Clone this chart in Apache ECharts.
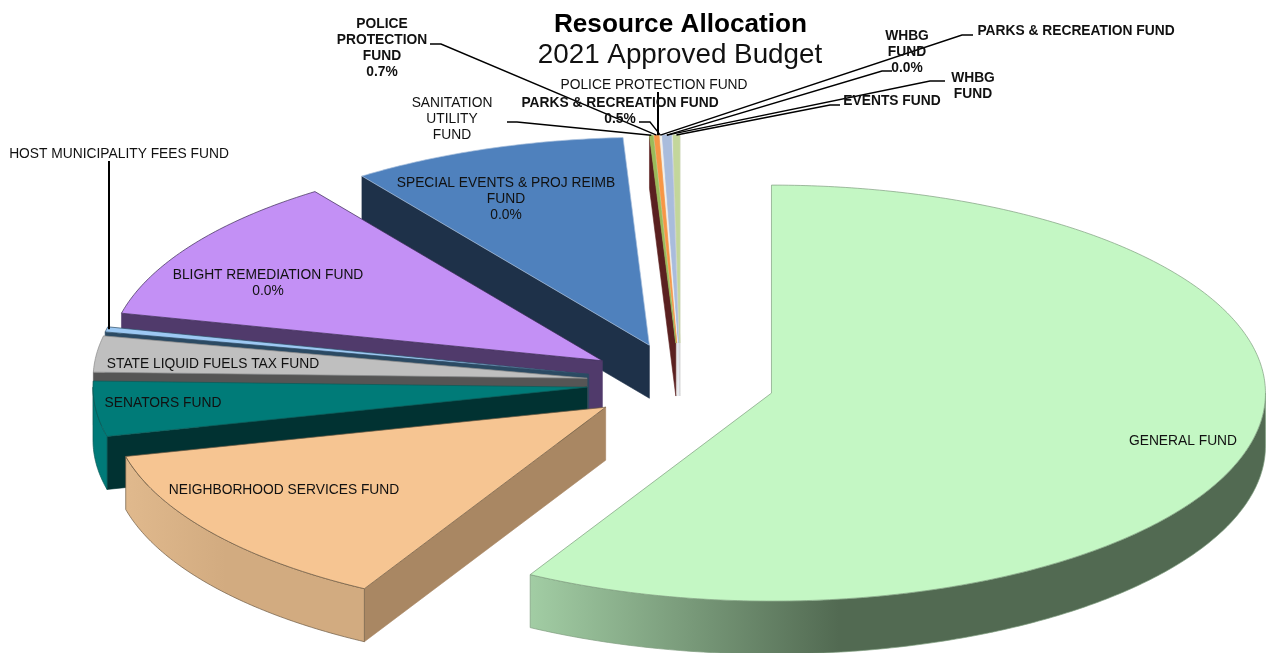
<!DOCTYPE html>
<html><head><meta charset="utf-8">
<style>html,body{margin:0;padding:0;background:#fff}#c{width:1267px;height:653px}</style>
<script src="https://cdn.jsdelivr.net/npm/echarts@6/dist/echarts.min.js"></script>
</head><body><div id="c"></div>
<script>
// ---- data: share of the budget, percent, clockwise from 12 o'clock
const categories = ['GENERAL FUND','NEIGHBORHOOD SERVICES FUND','SENATORS FUND','STATE LIQUID FUELS TAX FUND','HOST MUNICIPALITY FEES FUND','BLIGHT REMEDIATION FUND','SPECIAL EVENTS & PROJ REIMB FUND','SANITATION UTILITY FUND','POLICE PROTECTION FUND','PARKS & RECREATION FUND','WHBG FUND','EVENTS FUND'];
const shares = [58.15,13.08,4.28,2.8,0.4,11.45,9.04,0.12,0.16,0.05,0.3,0.22];

// ---- styles
const topColors  = ['#c4f7c4','#f6c592','#007b78','#bfbfbf','#9dc9f3','#c390f5','#4f81bd','#9bbb59','#f79646','#f2efe6','#a9bcdc','#c3d69b'];
const cutColors  = ['#526a52','#a98763','#013232','#555555','#2b4a63','#503a6b','#1e3149','#5a2020','#e8e8e8','#e8e8e8','#dfe3ee','#d5d5d8'];
const rimStops   = [['#a2cda4','#526a52','#526a52'],['#e0b98d','#d2ab80','#d2ab80'],['#007a78','#007a78','#007a78'],['#8a8a8a','#8a8a8a','#8a8a8a'],['#7aa0c0','#7aa0c0','#7aa0c0'],['#503a6b','#503a6b','#503a6b'],['#1e3149','#1e3149','#1e3149'],['#555','#555','#555'],['#ccc','#ccc','#ccc'],['#ccc','#ccc','#ccc'],['#ccc','#ccc','#ccc'],['#ccc','#ccc','#ccc']];
const edgeColors = ['#7f9d7f','#6d5a44','#0a5a58','#8a8a8a','#2b4a63','#3a2a52','#a9c0dc','#9bbb59','#f79646','#f2efe6','#a9bcdc','#c3d69b'];

// ---- projection of the pie
const pie = {cx:680.5, cy:383, rx:494, ry:208, explodeX:94, explodeY:40, depth:53, start:0};
const total = shares.reduce((a,b)=>a+b,0);
const bounds = []; { let a = pie.start; shares.forEach(v=>{ const b=a+v/total*360; bounds.push([a,b]); a=b; }); }
const rad = d=>d*Math.PI/180;
const apexOf = i=>{ const m=rad((bounds[i][0]+bounds[i][1])/2);
  return [pie.cx+pie.explodeX*Math.sin(m), pie.cy-pie.explodeY*Math.cos(m)]; };
const rimPt = (i,t)=>{ const a=apexOf(i); return [a[0]+pie.rx*Math.sin(rad(t)), a[1]-pie.ry*Math.cos(rad(t))]; };
const down = p=>[p[0],p[1]+pie.depth];
const arc = (i,a,b)=>{ const n=Math.max(2,Math.ceil((b-a)*1.5)), o=[]; for(let k=0;k<=n;k++) o.push(rimPt(i,a+(b-a)*k/n)); return o; };

// back-to-front paint order follows the slice's mid angle
const paintOrder = categories.map((_,i)=>i).sort((p,q)=>
  Math.cos(rad((bounds[q][0]+bounds[q][1])/2))-Math.cos(rad((bounds[p][0]+bounds[p][1])/2)));

function renderSlice(params){
  const i = paintOrder[params.dataIndex], A=apexOf(i), [b0,b1]=bounds[i], pts=arc(i,b0,b1), s=pts[0], e=pts[pts.length-1];
  const M=rimPt(i,(b0+b1)/2), kids=[];
  const face=(p,c,st,lw)=>({type:'polygon',shape:{points:p},style:{fill:c,stroke:st,lineWidth:lw}});
  // a cut face shows only when extruding its edge downwards leaves the wedge
  const shows=P=>{ const ux=P[0]-A[0],uy=P[1]-A[1];
    return (ux*(M[1]-A[1])-uy*(M[0]-A[0]))*(ux*1)<0; };
  if(shows(s)) kids.push(face([A,s,down(s),down(A)],cutColors[i],cutColors[i],0.6));
  if(shows(e)) kids.push(face([A,e,down(e),down(A)],cutColors[i],cutColors[i],0.6));
  const ra=Math.max(b0,90), rb=Math.min(b1,270);
  if(ra<rb){
    const r=arc(i,ra,rb);
    kids.push(face(r.concat(r.map(down).reverse()),{type:'linear',x:0,y:0,x2:1,y2:0,colorStops:[{offset:0,color:rimStops[i][0]},{offset:0.42,color:rimStops[i][1]},{offset:1,color:rimStops[i][2]}]},edgeColors[i],0.7));
  }
  kids.push(face([A].concat(pts),topColors[i],edgeColors[i],0.7));
  return {type:'group',children:kids};
}

// ---- annotations
const ink='#111';
const texts = [
 {lines:['POLICE','PROTECTION','FUND','0.7%'],x:382,y:24,bold:1,leader:[[430,44],[441,44]],to:8},
 {lines:['SANITATION','UTILITY','FUND'],x:452,y:103,leader:[[507,122],[517,122]],to:7},
 {lines:['POLICE PROTECTION FUND'],x:654,y:85,leader:[[658,92]],to:8,w:2,vertical:1},
 {lines:['PARKS & RECREATION FUND','0.5%'],x:620,y:103,bold:1,leader:[[639,122],[650,122]],to:9},
 {lines:['WHBG','FUND','0.0%'],x:907,y:36,bold:1,leader:[[892,71],[882,71]],to:10},
 {lines:['PARKS & RECREATION FUND'],x:1076,y:31,bold:1,leader:[[973,35],[962,35]],to:9},
 {lines:['WHBG','FUND'],x:973,y:78,bold:1,leader:[[945,81],[930,81]],to:10},
 {lines:['EVENTS FUND'],x:892,y:101,bold:1,leader:[[840,105],[830,105]],to:11},
 {lines:['SPECIAL EVENTS & PROJ REIMB','FUND','0.0%'],x:506,y:183},
 {lines:['BLIGHT REMEDIATION FUND','0.0%'],x:268,y:275},
 {lines:['HOST MUNICIPALITY FEES FUND'],x:119,y:154,leader:[[109,161]],to:4,w:2,vertical:1},
 {lines:['STATE LIQUID FUELS TAX FUND'],x:213,y:364},
 {lines:['SENATORS FUND'],x:163,y:403},
 {lines:['NEIGHBORHOOD SERVICES FUND'],x:284,y:490},
 {lines:['GENERAL FUND'],x:1183,y:441}
];
function renderNote(params){
  const n=texts[params.dataIndex], kids=[];
  if(n.leader){
    let end=rimPt(n.to,(bounds[n.to][0]+bounds[n.to][1])/2);
    if(n.vertical) end=[n.leader[0][0],end[1]];
    kids.push({type:'polyline',shape:{points:n.leader.concat([end])},style:{fill:null,stroke:'#000',lineWidth:n.w||1.4},z2:5});
  }
  n.lines.forEach((t,k)=>kids.push({type:'text',z2:10,style:{text:t,x:n.x,y:n.y+k*16,align:'center',verticalAlign:'middle',fill:ink,
     font:(n.bold?'bold ':'')+'13.8px "Liberation Sans", Arial, sans-serif'}}));
  return {type:'group',children:kids};
}

const chart = echarts.init(document.getElementById('c'),null,{renderer:'canvas'});
chart.setOption({
  animation:false,
  title:[
   {text:'Resource Allocation',left:675.5,top:7,textAlign:'center',textStyle:{fontFamily:'Liberation Sans',fontWeight:'bold',fontSize:26.2,color:'#000'}},
   {text:'2021 Approved Budget',left:675,top:36,textAlign:'center',textStyle:{fontFamily:'Liberation Sans',fontWeight:'normal',fontSize:27.8,color:'#111'}}
  ],
  series:[
   {type:'custom',coordinateSystem:'none',silent:true,z:2,renderItem:renderSlice,
    data:paintOrder.map(i=>({name:categories[i],value:[shares[i]]}))},
   {type:'custom',coordinateSystem:'none',silent:true,z:3,renderItem:renderNote,
    data:texts.map((n,i)=>({name:n.lines.join(' '),value:[i]}))}
  ]
});
</script></body></html>
